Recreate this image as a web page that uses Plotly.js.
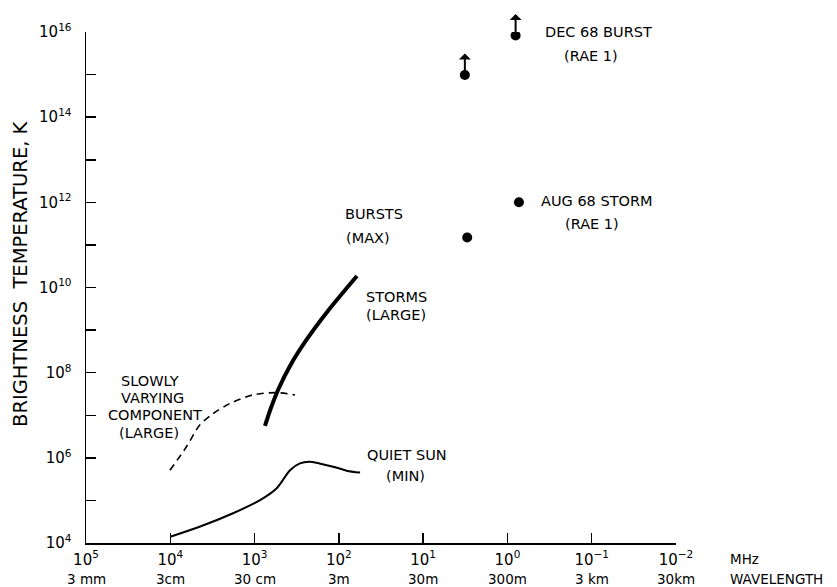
<!DOCTYPE html>
<html>
<head>
<meta charset="utf-8">
<script src="https://cdn.plot.ly/plotly-3.0.1.min.js"></script>
<style>
html,body{margin:0;padding:0;background:#fff;}
#chart{width:837px;height:587px;}
</style>
</head>
<body>
<div id="chart"></div>
<script>
// ---------- data (frequency in MHz, brightness temperature in K) ----------
const quietSunFreq = [10000, 4500, 1800, 870, 550, 380, 290, 225, 170, 117, 81, 56];
const quietSunTemp = [1.4e4, 2.4e4, 5.0e4, 1.0e5, 1.9e5, 5.1e5, 7.4e5, 8.1e5, 7.4e5, 6.2e5, 5.0e5, 4.5e5];

const stormsFreq = [753, 640, 514, 380, 252, 135, 61];
const stormsTemp = [5.6e6, 1.48e7, 4.37e7, 1.44e8, 5.26e8, 2.81e9, 1.86e10];

const svcFreq = [10100, 6460, 4470, 3090, 1950, 1050, 550, 331];
const svcTemp = [5.1e5, 1.8e6, 5.9e6, 1.1e7, 1.9e7, 3.0e7, 3.4e7, 3.0e7];

// RAE 1 / burst points
const pointFreq = [0.80, 3.2, 0.73, 3.0];
const pointTemp = [8.3e15, 9.8e14, 1.0e12, 1.5e11];
const pointLowerLimit = [true, true, false, false];   // arrows: value is a lower limit

// axis ticks
const xTickVals = [1e5, 1e4, 1e3, 1e2, 1e1, 1e0, 1e-1, 1e-2];
const xTickText = ["10<sup>5</sup>", "10<sup>4</sup>", "10<sup>3</sup>", "10<sup>2</sup>",
                   "10<sup>1</sup>", "10<sup>0</sup>", "10<sup>−1</sup>", "10<sup>−2</sup>"];
const wavelengthLabels = ["3 mm", "3cm", "30 cm", "3m", "30m", "300m", "3 km", "30km"];
const yTickVals = [1e4, 1e5, 1e6, 1e7, 1e8, 1e9, 1e10, 1e11, 1e12, 1e13, 1e14, 1e15, 1e16];
const yTickText = ["10<sup>4</sup>", "", "10<sup>6</sup>", "", "10<sup>8</sup>", "",
                   "10<sup>10</sup>", "", "10<sup>12</sup>", "", "10<sup>14</sup>", "", "10<sup>16</sup>"];

// ---------- layout helpers ----------
const FONT = "DejaVu Sans, Arial, sans-serif";
const L = 86, R = 676, T = 32, B = 543;
const px = x => (x - L) / (R - L);
const py = y => (B - y) / (B - T);

function label(text, x, y, opts) {
  return Object.assign({
    text: text, xref: "paper", yref: "paper", x: px(x), y: py(y),
    xanchor: "center", yanchor: "middle", showarrow: false, borderpad: 0,
    font: {family: FONT, size: 14.5, color: "#000"}
  }, opts || {});
}

const annotations = [
  label("BURSTS", 374, 214), label("(MAX)", 368, 238),
  label("STORMS", 396, 297), label("(LARGE)", 396, 315),
  label("SLOWLY", 150, 381), label("VARYING", 152, 398),
  label("COMPONENT", 155, 415), label("(LARGE)", 149, 433),
  label("QUIET SUN", 407, 455), label("(MIN)", 405, 476),
  label("DEC 68 BURST", 598, 32), label("(RAE 1)", 591, 56),
  label("AUG 68 STORM", 597, 201), label("(RAE 1)", 592, 224),
  label("MHz", 729, 559, {xanchor: "left", font: {family: FONT, size: 13.5, color: "#000"}}),
  label("WAVELENGTH", 729, 579, {xanchor: "left", font: {family: FONT, size: 13.5, color: "#000"}}),
  label("BRIGHTNESS  TEMPERATURE, K", 20, 274, {textangle: -90, font: {family: FONT, size: 19.5, color: "#000"}})
];

// wavelength labels under each frequency tick
xTickVals.forEach((v, i) => {
  annotations.push({
    text: wavelengthLabels[i], xref: "x", yref: "paper", x: Math.log10(v), y: py(579),
    xanchor: "center", yanchor: "middle", showarrow: false, borderpad: 0,
    font: {family: FONT, size: 13.5, color: "#000"}
  });
});

// upward arrows for lower-limit points
pointFreq.forEach((f, i) => {
  if (!pointLowerLimit[i]) return;
  annotations.push({
    text: "", xref: "x", yref: "y", x: Math.log10(f), y: Math.log10(pointTemp[i]),
    showarrow: true, ax: 0, ay: -23, arrowside: "start",
    arrowhead: 2, arrowsize: 1.2, arrowwidth: 2, arrowcolor: "#000",
    standoff: 0, startstandoff: 0
  });
});

const traces = [
  {x: quietSunFreq, y: quietSunTemp, mode: "lines", type: "scatter",
   line: {color: "#000", width: 2, shape: "spline", smoothing: 0.8}},
  {x: stormsFreq, y: stormsTemp, mode: "lines", type: "scatter",
   line: {color: "#000", width: 4, shape: "spline", smoothing: 0.8}},
  {x: svcFreq, y: svcTemp, mode: "lines", type: "scatter",
   line: {color: "#000", width: 1.6, dash: "7px,5px", shape: "spline", smoothing: 0.8}},
  {x: pointFreq, y: pointTemp, mode: "markers", type: "scatter",
   marker: {color: "#000", size: 10, symbol: "circle"}}
];

const axisCommon = {
  showline: true, linecolor: "#000", linewidth: 1.5,
  ticks: "inside", ticklen: 10, tickwidth: 1.5, tickcolor: "#000",
  showgrid: false, zeroline: false, mirror: false,
  tickfont: {family: FONT, size: 15, color: "#000"}, tickmode: "array"
};

const layout = {
  width: 837, height: 587,
  margin: {l: L, r: 837 - R, t: T, b: 587 - B},
  paper_bgcolor: "#fff", plot_bgcolor: "#fff",
  showlegend: false,
  xaxis: Object.assign({}, axisCommon, {
    type: "log", range: [5, -2], tickvals: xTickVals, ticktext: xTickText,
    ticklabelstandoff: 2
  }),
  yaxis: Object.assign({}, axisCommon, {
    type: "log", range: [4, 16], tickvals: yTickVals, ticktext: yTickText,
    ticklabelstandoff: 10
  }),
  annotations: annotations
};

Plotly.newPlot("chart", traces, layout, {staticPlot: true, displayModeBar: false});
</script>
</body>
</html>
